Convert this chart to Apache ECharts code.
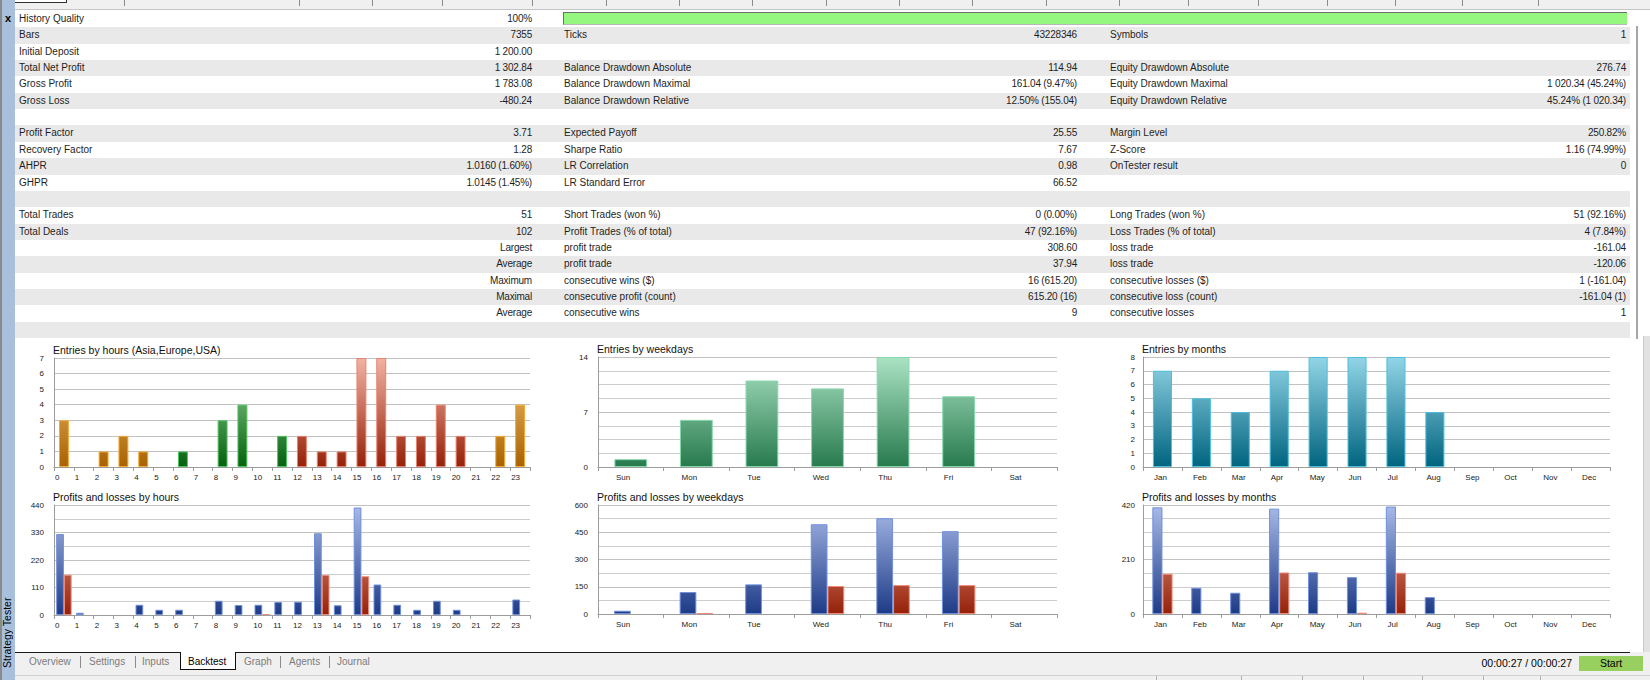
<!DOCTYPE html>
<html><head><meta charset="utf-8">
<script src="https://cdn.jsdelivr.net/npm/echarts@6/dist/echarts.min.js"></script>
<style>
html,body{margin:0;padding:0;width:1650px;height:680px;overflow:hidden;background:#fff;font-family:'Liberation Sans',Arial,sans-serif;color:#1e1e1e;}
.a{position:absolute;white-space:nowrap;}
.row{position:absolute;left:15px;width:1615px;}
.lbl{position:absolute;font-size:10px;}
.val{position:absolute;font-size:10px;text-align:right;letter-spacing:-0.2px;}
.tab{position:absolute;top:653px;height:18px;line-height:18px;font-size:10px;color:#7c7c7c;}
.sep{position:absolute;width:1px;background:#8c8c8c;}
</style></head><body>
<div id="page"></div>
<div id="chart" style="position:absolute;left:0;top:0;width:1650px;height:680px;"></div>
<script>
// ---------- chart data ----------
const hourLabels = ['0','1','2','3','4','5','6','7','8','9','10','11','12','13','14','15','16','17','18','19','20','21','22','23'];
const hourEntries = [3,0,1,2,1,0,1,0,3,4,0,2,2,1,1,7,7,2,2,4,2,0,2,4];
const hourProfits = [324,9,0,0,41,21,21,0,57,40,41,52,53,327,39,430,122,41,21,57,21,0,0,62];
const hourLosses  = [161,0,0,0,0,0,0,0,0,0,4,0,0,160,0,155,0,0,0,0,0,0,0,0];
const weekdayLabels = ['Sun','Mon','Tue','Wed','Thu','Fri','Sat'];
const weekdayEntries = [1,6,11,10,14,9,0];
const weekdayProfits = [18,121,163,494,527,456,0];
const weekdayLosses  = [0,5,0,154,159,159,0];
const monthLabels = ['Jan','Feb','Mar','Apr','May','Jun','Jul','Aug','Sep','Oct','Nov','Dec'];
const monthEntries = [7,5,4,7,8,8,8,4,0,0,0,0];
const monthProfits = [411,101,82,406,161,142,414,65,0,0,0,0];
const monthLosses  = [155,0,0,160,0,5,159,0,0,0,0,0];

// ---------- report table ----------
const statsCol1 = [
 ['History Quality','100%'],['Bars','7355'],['Initial Deposit','1 200.00'],['Total Net Profit','1 302.84'],['Gross Profit','1 783.08'],['Gross Loss','-480.24'],['',''],
 ['Profit Factor','3.71'],['Recovery Factor','1.28'],['AHPR','1.0160 (1.60%)'],['GHPR','1.0145 (1.45%)'],['',''],
 ['Total Trades','51'],['Total Deals','102'],['','Largest'],['','Average'],['','Maximum'],['','Maximal'],['','Average']];
const statsCol2 = [
 ['',''],['Ticks','43228346'],['',''],['Balance Drawdown Absolute','114.94'],['Balance Drawdown Maximal','161.04 (9.47%)'],['Balance Drawdown Relative','12.50% (155.04)'],['',''],
 ['Expected Payoff','25.55'],['Sharpe Ratio','7.67'],['LR Correlation','0.98'],['LR Standard Error','66.52'],['',''],
 ['Short Trades (won %)','0 (0.00%)'],['Profit Trades (% of total)','47 (92.16%)'],['profit trade','308.60'],['profit trade','37.94'],['consecutive wins ($)','16 (615.20)'],['consecutive profit (count)','615.20 (16)'],['consecutive wins','9']];
const statsCol3 = [
 ['',''],['Symbols','1'],['',''],['Equity Drawdown Absolute','276.74'],['Equity Drawdown Maximal','1 020.34 (45.24%)'],['Equity Drawdown Relative','45.24% (1 020.34)'],['',''],
 ['Margin Level','250.82%'],['Z-Score','1.16 (74.99%)'],['OnTester result','0'],['',''],['',''],
 ['Long Trades (won %)','51 (92.16%)'],['Loss Trades (% of total)','4 (7.84%)'],['loss trade','-161.04'],['loss trade','-120.06'],['consecutive losses ($)','1 (-161.04)'],['consecutive loss (count)','-161.04 (1)'],['consecutive losses','1']];
const bottomTabs = ['Overview','Settings','Inputs','Backtest','Graph','Agents','Journal'];
const timerText = '00:00:27 / 00:00:27';

// ---------- page chrome ----------
const page = document.getElementById('page');
let h = '';
// top strip
h += '<div class="a" style="left:0;top:0;width:1650px;height:9px;background:#f0f0f0;border-bottom:1px solid #c4c4c4"></div>';
h += '<div class="a" style="left:5px;top:-4px;width:60px;height:5px;background:#fff;border:1px solid #333"></div>';
[124,299,372,442,532,606,679,752,826,899,972,1046,1119,1188,1258,1327,1395,1462,1538].forEach(x=>{
  h += '<div class="sep" style="left:'+x+'px;top:0;height:6px"></div>';
});
// table rows
const RH = 16.35, R0 = 11;
const cols = [[statsCol1,19,532],[statsCol2,564,1077],[statsCol3,1110,1626]];
for (let i=0;i<20;i++){
  const top = R0 + i*RH;
  h += '<div class="row" style="top:'+top+'px;height:'+(RH+0.2)+'px;background:'+(i%2? '#e9e9e9':'#fff')+'"></div>';
  if (i<19){
    cols.forEach(([arr,lx,rx],ci)=>{
      const [l,v] = arr[i];
      if (l) h += '<div class="a lbl" style="left:'+lx+'px;top:'+top+'px;line-height:'+RH+'px">'+l+'</div>';
      if (v) h += '<div class="a val" style="left:'+(rx-200)+'px;width:200px;top:'+top+'px;line-height:'+RH+'px">'+v+'</div>';
    });
  }
}
// history quality bar
h += '<div class="a" style="left:563px;top:12px;width:1063px;height:11px;background:#95f680;border-top:1px solid #6e6e6e;border-left:1px solid #6e6e6e;border-bottom:1px solid #b8b8b8"></div>';
// left strip
h += '<div class="a" style="left:0;top:0;width:15px;height:680px;background:#a8c0dc;border-left:2px solid #8a8a8a;box-sizing:border-box"></div>';
h += '<div class="a" style="left:2px;top:12px;width:12px;text-align:center;font-size:11px;font-weight:bold;color:#000">x</div>';
h += '<div class="a" style="left:1px;top:596px;height:74px;width:13px;writing-mode:vertical-rl;transform:rotate(180deg);font-size:10.5px;line-height:13px;color:#000;text-align:center">Strategy Tester</div>';
// right scrollbar
h += '<div class="a" style="left:1636px;top:26px;width:2px;height:313px;background:#a6a6a6"></div>';
h += '<div class="a" style="left:1643px;top:336px;width:7px;height:316px;background:#e2e2e2;border-left:1px solid #c8c8c8"></div>';
// bottom tab bar
h += '<div class="a" style="left:15px;top:652px;width:1635px;height:28px;background:#f0f0f0"></div>';
h += '<div class="a" style="left:15px;top:652px;width:1615px;height:1px;background:#1a1a1a"></div>';
h += '<div class="a" style="left:15px;top:675px;width:1635px;height:1px;background:#cfcfcf"></div>';
[1156,1241,1302,1363,1422,1483,1540].forEach(x=>{ h += '<div class="sep" style="left:'+x+'px;top:676px;height:4px;background:#b0b0b0"></div>'; });
h += '<div class="a" style="left:180px;top:652px;width:54px;height:17px;background:#fff;border:1px solid #111;border-top:none"></div>';
const tabX = [29,89,142,188,244,289,337];
bottomTabs.forEach((t,k)=>{
  h += '<div class="tab" style="left:'+tabX[k]+'px;'+(t==='Backtest'?'color:#000':'')+'">'+t+'</div>';
});
[80,135,280,329].forEach(x=>{ h += '<div class="sep" style="left:'+x+'px;top:656px;height:12px"></div>'; });
h += '<div class="a" style="left:1440px;width:132px;top:655px;line-height:16px;font-size:10.5px;text-align:right;color:#000">'+timerText+'</div>';
h += '<div class="a" style="left:1579px;top:656px;width:64px;height:15px;line-height:15px;background:#97d05e;font-size:10.5px;text-align:center;color:#000">Start</div>';
page.innerHTML = h;

// ---------- charts ----------
const FONT = "'Liberation Sans', Arial, sans-serif";
function grad(top, bottom, c0, c1){
  return new echarts.graphic.LinearGradient(0, top, 0, bottom, [{offset:0,color:c0},{offset:1,color:c1}], true);
}
const panels = [
 {title:'Entries by hours (Asia,Europe,USA)', left:54,  top:358, width:476, height:109, cats:hourLabels, max:7,   interval:1,   minor:0, off:1,  ylm:10},
 {title:'Profits and losses by hours',        left:54,  top:505, width:476, height:110, cats:hourLabels, max:440, interval:110, minor:2, off:1,  ylm:10},
 {title:'Entries by weekdays',                left:598, top:357, width:459, height:110, cats:weekdayLabels, max:14, interval:7, minor:4, off:18, ylm:10},
 {title:'Profits and losses by weekdays',     left:598, top:505, width:459, height:109, cats:weekdayLabels, max:600, interval:150, minor:2, off:18, ylm:10},
 {title:'Entries by months',                  left:1143,top:357, width:467, height:110, cats:monthLabels, max:8,   interval:1,   minor:0, off:11, ylm:8},
 {title:'Profits and losses by months',       left:1143,top:505, width:467, height:109, cats:monthLabels, max:420, interval:210, minor:4, off:11, ylm:8}
];
const axisCol = '#9c9c9c';
const title = [], grid = [], xAxis = [], yAxis = [], series = [];
panels.forEach((p,i)=>{
  title.push({text:p.title, left:p.left-1, top:p.top-14, padding:0,
    textStyle:{fontSize:10.5, fontWeight:'normal', color:'#111', fontFamily:FONT}});
  grid.push({left:p.left, top:p.top, width:p.width, height:p.height, containLabel:false});
  xAxis.push({type:'category', gridIndex:i, data:p.cats, boundaryGap:true,
    axisLine:{lineStyle:{color:axisCol}}, axisTick:{show:true, length:4, interval:0, lineStyle:{color:axisCol}},
    axisLabel:{show:false}, splitLine:{show:false}});
  xAxis.push({type:'value', gridIndex:i, min:0, max:p.cats.length, interval:1, position:'bottom',
    axisLine:{show:false}, axisTick:{show:false}, splitLine:{show:false},
    axisLabel:{fontSize:8, color:'#222', fontFamily:FONT, margin:6, align:'left', padding:[0,0,0,p.off],
      formatter:(v)=> (p.cats[v] !== undefined ? p.cats[v] : '')}});
  yAxis.push({type:'value', gridIndex:i, min:0, max:p.max, interval:p.interval,
    axisLine:{show:true, lineStyle:{color:axisCol}}, axisTick:{show:false},
    axisLabel:{fontSize:8, color:'#222', fontFamily:FONT, margin:p.ylm},
    splitLine:{show:true, lineStyle:{color:'#c2c2c2'}},
    minorTick:{show:false, splitNumber:p.minor||2},
    minorSplitLine:{show:!!p.minor, lineStyle:{color:'#cdcdcd'}}});
});
const Y = (i)=>[panels[i].top, panels[i].top+panels[i].height];
const nz = (v)=> v===0 ? '-' : v;
function session(hr){ return (hr>=6 && hr<=11) ? 'eu' : (hr>=12 && hr<=21) ? 'us' : 'asia'; }
const sessColors = {asia:['#f6c67a','#a86200','#f7a834'], eu:['#a0d8a0','#04600e','#4ec45c'], us:['#f2b3a3','#952008','#e8826e']};
// 0: entries by hours
series.push({type:'bar', xAxisIndex:0, yAxisIndex:0, barWidth:'50%',
  data: hourEntries.map((v,hr)=>{ const c = sessColors[session(hr)];
    return {value:nz(v), itemStyle:{color:grad(Y(0)[0],Y(0)[1],c[0],c[1]), borderColor:c[2], borderWidth:1}}; })});
function plSeries(i, profits, losses, bw){
  series.push({type:'bar', xAxisIndex:2*i, yAxisIndex:i, barWidth:bw, barGap:'0%',
    data:profits.map(nz), itemStyle:{color:grad(Y(i)[0],Y(i)[1],'#a9bbe8','#1d3a86'), borderColor:'#7090dc', borderWidth:1}});
  series.push({type:'bar', xAxisIndex:2*i, yAxisIndex:i, barWidth:bw, barGap:'0%',
    data:losses.map(nz), itemStyle:{color:grad(Y(i)[0],Y(i)[1],'#f2b3a3','#952008'), borderColor:'#f08a78', borderWidth:1}});
}
plSeries(1, hourProfits, hourLosses, '39%');
series.push({type:'bar', xAxisIndex:4, yAxisIndex:2, barWidth:'50%', data:weekdayEntries.map(nz),
  itemStyle:{color:grad(Y(2)[0],Y(2)[1],'#abe3c4','#277a4d'), borderColor:'#86d8ac', borderWidth:1}});
plSeries(3, weekdayProfits, weekdayLosses, '25.5%');
series.push({type:'bar', xAxisIndex:8, yAxisIndex:4, barWidth:'49%', data:monthEntries.map(nz),
  itemStyle:{color:grad(Y(4)[0],Y(4)[1],'#93d5e7','#00647f'), borderColor:'#4bc0dd', borderWidth:1}});
plSeries(5, monthProfits, monthLosses, '26%');

const chart = echarts.init(document.getElementById('chart'), null, {renderer:'svg'});
chart.setOption({animation:false, title, grid, xAxis, yAxis, series, tooltip:{show:false}});
</script>
</body></html>
